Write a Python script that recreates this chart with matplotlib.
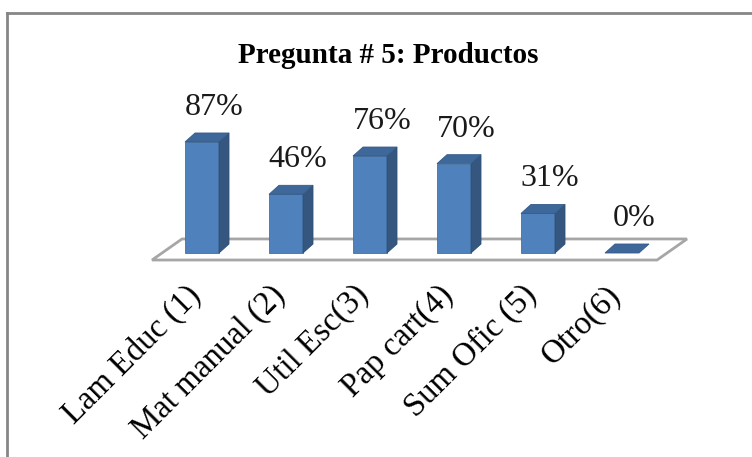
import matplotlib.pyplot as plt
from matplotlib.patches import Polygon
from matplotlib.lines import Line2D
from matplotlib.transforms import ScaledTranslation

categorias = ['Lam Educ (1)', 'Mat manual (2)', 'Util Esc(3)', 'Pap cart(4)', 'Sum Ofic (5)', 'Otro(6)']
porcentajes = [87, 46, 76, 70, 31, 0]
etiquetas = ['87%', '46%', '76%', '70%', '31%', '0%']

plt.rcParams['font.family'] = ['Liberation Serif', 'DejaVu Serif']

W, H = 752, 457
fig = plt.figure(figsize=(W / 100, H / 100), dpi=100)

# escala en pixeles: 84 px por categoria, 1.276 px por punto porcentual
px_x = 84.0
px_y = 1.276
y_base = 253  # pixel (desde arriba) del cero
x0 = 202      # pixel del centro de la primera barra
ylo, yhi = -25, 110
xlo, xhi = -1.0, 5.8
left = x0 + xlo * px_x
bottom = H - (y_base - ylo * px_y)
ax = fig.add_axes([left / W, bottom / H, (xhi - xlo) * px_x / W, (yhi - ylo) * px_y / H])
ax.set_xlim(xlo, xhi)
ax.set_ylim(ylo, yhi)
for s in ax.spines.values():
    s.set_visible(False)
ax.set_yticks([])

# piso 3D
fdx, fdy = 0.357, 16.5
fx0, fx1, fy0 = -0.595, 5.417, -5.5
piso = Polygon([(fx0, fy0), (fx1, fy0), (fx1 + fdx, fy0 + fdy), (fx0 + fdx, fy0 + fdy)],
               closed=True, facecolor='white', edgecolor='#a6a6a6', lw=2, zorder=1)
ax.add_patch(piso)

# barras con profundidad
ancho = 34 / px_x
dx, dy = 10 / px_x, 9 / px_y
for i, v in enumerate(porcentajes):
    xl = i - ancho / 2
    xr = i + ancho / 2
    if v > 0:
        ax.bar(i, v, width=ancho, color='#4F81BD', edgecolor='#44719f', lw=0.6, zorder=3)
        ax.add_patch(Polygon([(xr, 0), (xr + dx, dy), (xr + dx, v + dy), (xr, v)],
                             facecolor='#34567F', edgecolor='#2f4f78', lw=0.6, zorder=3))
    ax.add_patch(Polygon([(xl, v), (xr, v), (xr + dx, v + dy), (xl + dx, v + dy)],
                         facecolor='#3E679A', edgecolor='#355a88', lw=0.6, zorder=3))
    ax.text(i + 12 / px_x, v + 27 / px_y, etiquetas[i], ha='center', va='baseline',
            fontsize=23, color='#1a1a1a')

ax.set_xticks(range(len(categorias)))
ax.set_xticklabels(categorias, rotation=45, ha='right', va='center',
                   rotation_mode='anchor', fontsize=23.5)
ax.tick_params(axis='x', length=0, pad=4)
desplazar = ScaledTranslation(-6 / 100, 0, fig.dpi_scale_trans)
for lab in ax.get_xticklabels():
    lab.set_transform(lab.get_transform() + desplazar)

fig.text(388 / W, 1 - 63 / H, 'Pregunta # 5: Productos', ha='center', va='baseline',
         fontsize=21, fontweight='bold')

# marco del grafico
fig.add_artist(Line2D([7 / W, 7 / W], [0, 1 - 13 / H], color='#868686', lw=2))
fig.add_artist(Line2D([7 / W, 1], [1 - 13 / H, 1 - 13 / H], color='#868686', lw=2))

fig.savefig('out.png', dpi=100)
